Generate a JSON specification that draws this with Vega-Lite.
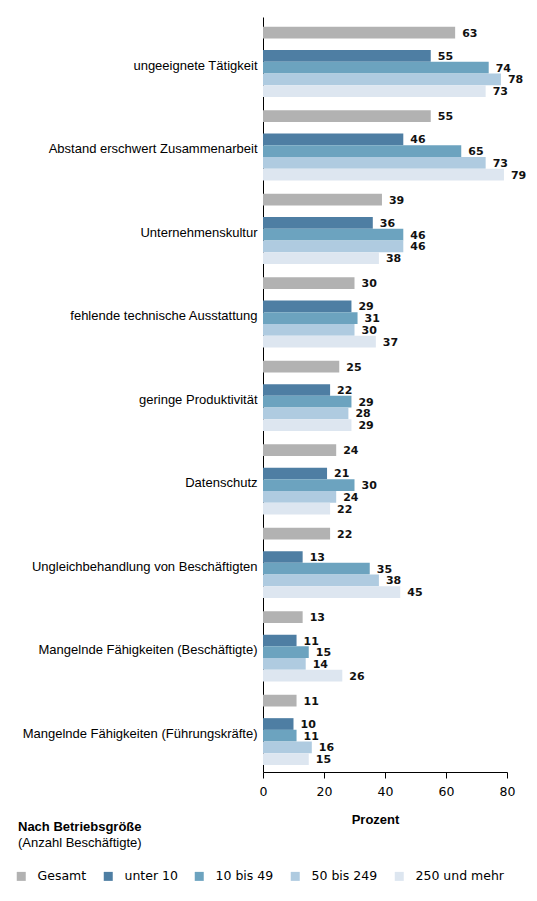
{
  "$schema": "https://vega.github.io/schema/vega-lite/v6.json",
  "width": 244,
  "height": 755,
  "autosize": {"type": "none"},
  "padding": {"left": 263, "top": 17, "right": 30, "bottom": 129},
  "background": "white",
  "title": {
    "text": "Nach Betriebsgröße",
    "subtitle": "(Anzahl Beschäftigte)",
    "orient": "bottom",
    "anchor": "start",
    "frame": "bounds",
    "offset": -62,
    "dx": 3,
    "baseline": "top",
    "font": "Liberation Sans",
    "fontSize": 13,
    "fontWeight": "bold",
    "color": "#000000",
    "subtitleFont": "Liberation Sans",
    "subtitleFontSize": 13,
    "subtitleColor": "#000000",
    "subtitlePadding": 3
  },
  "data": {
    "values": [
      {"Grund": "ungeeignete Tätigkeit", "Gruppe": "Gesamt", "Wert": 63},
      {"Grund": "ungeeignete Tätigkeit", "Gruppe": "unter 10", "Wert": 55},
      {"Grund": "ungeeignete Tätigkeit", "Gruppe": "10 bis 49", "Wert": 74},
      {"Grund": "ungeeignete Tätigkeit", "Gruppe": "50 bis 249", "Wert": 78},
      {"Grund": "ungeeignete Tätigkeit", "Gruppe": "250 und mehr", "Wert": 73},
      {"Grund": "Abstand erschwert Zusammenarbeit", "Gruppe": "Gesamt", "Wert": 55},
      {"Grund": "Abstand erschwert Zusammenarbeit", "Gruppe": "unter 10", "Wert": 46},
      {"Grund": "Abstand erschwert Zusammenarbeit", "Gruppe": "10 bis 49", "Wert": 65},
      {"Grund": "Abstand erschwert Zusammenarbeit", "Gruppe": "50 bis 249", "Wert": 73},
      {"Grund": "Abstand erschwert Zusammenarbeit", "Gruppe": "250 und mehr", "Wert": 79},
      {"Grund": "Unternehmenskultur", "Gruppe": "Gesamt", "Wert": 39},
      {"Grund": "Unternehmenskultur", "Gruppe": "unter 10", "Wert": 36},
      {"Grund": "Unternehmenskultur", "Gruppe": "10 bis 49", "Wert": 46},
      {"Grund": "Unternehmenskultur", "Gruppe": "50 bis 249", "Wert": 46},
      {"Grund": "Unternehmenskultur", "Gruppe": "250 und mehr", "Wert": 38},
      {"Grund": "fehlende technische Ausstattung", "Gruppe": "Gesamt", "Wert": 30},
      {"Grund": "fehlende technische Ausstattung", "Gruppe": "unter 10", "Wert": 29},
      {"Grund": "fehlende technische Ausstattung", "Gruppe": "10 bis 49", "Wert": 31},
      {"Grund": "fehlende technische Ausstattung", "Gruppe": "50 bis 249", "Wert": 30},
      {"Grund": "fehlende technische Ausstattung", "Gruppe": "250 und mehr", "Wert": 37},
      {"Grund": "geringe Produktivität", "Gruppe": "Gesamt", "Wert": 25},
      {"Grund": "geringe Produktivität", "Gruppe": "unter 10", "Wert": 22},
      {"Grund": "geringe Produktivität", "Gruppe": "10 bis 49", "Wert": 29},
      {"Grund": "geringe Produktivität", "Gruppe": "50 bis 249", "Wert": 28},
      {"Grund": "geringe Produktivität", "Gruppe": "250 und mehr", "Wert": 29},
      {"Grund": "Datenschutz", "Gruppe": "Gesamt", "Wert": 24},
      {"Grund": "Datenschutz", "Gruppe": "unter 10", "Wert": 21},
      {"Grund": "Datenschutz", "Gruppe": "10 bis 49", "Wert": 30},
      {"Grund": "Datenschutz", "Gruppe": "50 bis 249", "Wert": 24},
      {"Grund": "Datenschutz", "Gruppe": "250 und mehr", "Wert": 22},
      {"Grund": "Ungleichbehandlung von Beschäftigten", "Gruppe": "Gesamt", "Wert": 22},
      {"Grund": "Ungleichbehandlung von Beschäftigten", "Gruppe": "unter 10", "Wert": 13},
      {"Grund": "Ungleichbehandlung von Beschäftigten", "Gruppe": "10 bis 49", "Wert": 35},
      {"Grund": "Ungleichbehandlung von Beschäftigten", "Gruppe": "50 bis 249", "Wert": 38},
      {"Grund": "Ungleichbehandlung von Beschäftigten", "Gruppe": "250 und mehr", "Wert": 45},
      {"Grund": "Mangelnde Fähigkeiten (Beschäftigte)", "Gruppe": "Gesamt", "Wert": 13},
      {"Grund": "Mangelnde Fähigkeiten (Beschäftigte)", "Gruppe": "unter 10", "Wert": 11},
      {"Grund": "Mangelnde Fähigkeiten (Beschäftigte)", "Gruppe": "10 bis 49", "Wert": 15},
      {"Grund": "Mangelnde Fähigkeiten (Beschäftigte)", "Gruppe": "50 bis 249", "Wert": 14},
      {"Grund": "Mangelnde Fähigkeiten (Beschäftigte)", "Gruppe": "250 und mehr", "Wert": 26},
      {"Grund": "Mangelnde Fähigkeiten (Führungskräfte)", "Gruppe": "Gesamt", "Wert": 11},
      {"Grund": "Mangelnde Fähigkeiten (Führungskräfte)", "Gruppe": "unter 10", "Wert": 10},
      {"Grund": "Mangelnde Fähigkeiten (Führungskräfte)", "Gruppe": "10 bis 49", "Wert": 11},
      {"Grund": "Mangelnde Fähigkeiten (Führungskräfte)", "Gruppe": "50 bis 249", "Wert": 16},
      {"Grund": "Mangelnde Fähigkeiten (Führungskräfte)", "Gruppe": "250 und mehr", "Wert": 15}
    ]
  },
  "encoding": {
    "y": {
      "field": "Grund",
      "type": "nominal",
      "sort": [
        "ungeeignete Tätigkeit",
        "Abstand erschwert Zusammenarbeit",
        "Unternehmenskultur",
        "fehlende technische Ausstattung",
        "geringe Produktivität",
        "Datenschutz",
        "Ungleichbehandlung von Beschäftigten",
        "Mangelnde Fähigkeiten (Beschäftigte)",
        "Mangelnde Fähigkeiten (Führungskräfte)"
      ],
      "scale": {"paddingInner": 0.159, "paddingOuter": 0.1, "align": 0.58},
      "axis": {
        "title": null,
        "ticks": false,
        "domain": true,
        "domainColor": "#000000",
        "domainWidth": 1,
        "labelFont": "Liberation Sans",
        "labelFontSize": 13,
        "labelColor": "#000000",
        "labelPadding": 6,
        "labelLimit": 300,
        "labelOffset": 4
      }
    },
    "yOffset": {
      "field": "Gruppe",
      "type": "nominal",
      "scale": {
        "domain": ["Gesamt", "Abstand", "unter 10", "10 bis 49", "50 bis 249", "250 und mehr"],
        "paddingInner": 0,
        "paddingOuter": 0
      }
    },
    "x": {
      "field": "Wert",
      "type": "quantitative",
      "scale": {"domain": [0, 80], "nice": false},
      "axis": {
        "values": [0, 20, 40, 60, 80],
        "grid": false,
        "domainColor": "#000000",
        "domainWidth": 1,
        "tickColor": "#000000",
        "tickSize": 6,
        "labelFont": "DejaVu Sans",
        "labelFontSize": 12.5,
        "labelColor": "#000000",
        "labelPadding": 7,
        "labelFlush": false,
        "title": "Prozent",
        "titleFont": "Liberation Sans",
        "titleFontSize": 13,
        "titleFontWeight": "bold",
        "titleColor": "#000000",
        "titlePadding": 16,
        "titleX": 112
      }
    }
  },
  "layer": [
    {
      "mark": {"type": "bar"},
      "encoding": {
        "color": {
          "field": "Gruppe",
          "type": "nominal",
          "scale": {
            "domain": ["Gesamt", "unter 10", "10 bis 49", "50 bis 249", "250 und mehr"],
            "range": ["#b2b2b2", "#4e7ea3", "#6ca3bf", "#afcbe0", "#dde6f0"]
          },
          "legend": {
            "orient": "none",
            "legendX": -248,
            "legendY": 853,
            "direction": "horizontal",
            "title": null,
            "symbolType": "square",
            "symbolSize": 81,
            "symbolStrokeWidth": 0,
            "labelFont": "DejaVu Sans",
            "labelFontSize": 12.5,
            "labelColor": "#000000",
            "labelOffset": 10,
            "columnPadding": 15
          }
        }
      }
    },
    {
      "mark": {
        "type": "text",
        "align": "left",
        "baseline": "middle",
        "dx": 7,
        "dy": 1,
        "font": "DejaVu Sans",
        "fontSize": 11,
        "fontWeight": "bold",
        "color": "#111111"
      },
      "encoding": {
        "text": {"field": "Wert", "type": "quantitative"}
      }
    }
  ],
  "config": {
    "view": {"stroke": null}
  }
}
